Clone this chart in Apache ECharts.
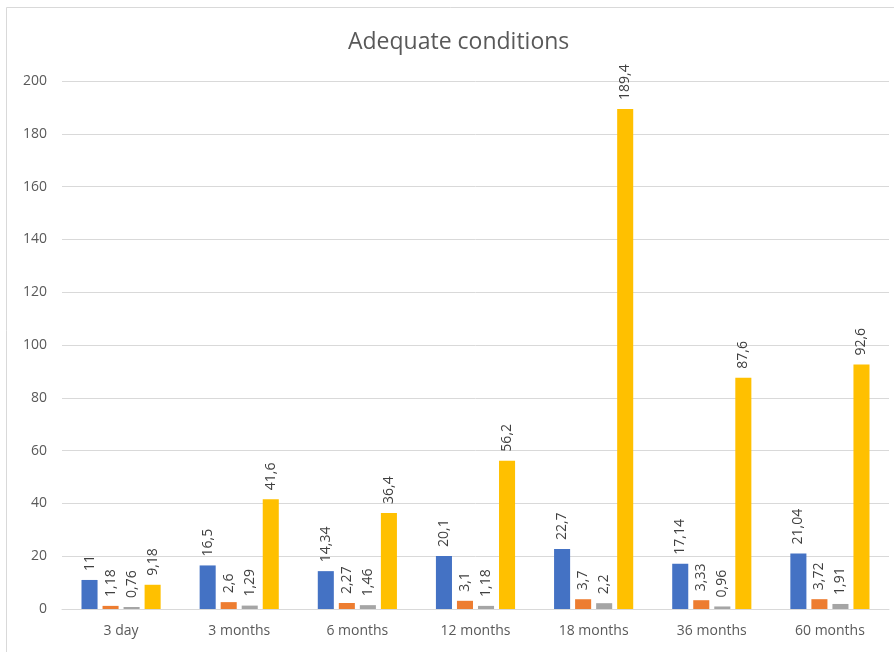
<!DOCTYPE html>
<html>
<head>
<meta charset="utf-8">
<script src="https://cdn.jsdelivr.net/npm/echarts@6/dist/echarts.min.js"></script>
<style>
html,body{margin:0;padding:0;background:#fff;}
#chart{width:894px;height:652px;}
</style>
</head>
<body>
<div id="chart"></div>
<script>
const categories = ['3 day','3 months','6 months','12 months','18 months','36 months','60 months'];
const seriesBlue = [11, 16.5, 14.34, 20.1, 22.7, 17.14, 21.04];
const seriesOrange = [1.18, 2.6, 2.27, 3.1, 3.7, 3.33, 3.72];
const seriesGray = [0.76, 1.29, 1.46, 1.18, 2.2, 0.96, 1.91];
const seriesYellow = [9.18, 41.6, 36.4, 56.2, 189.4, 87.6, 92.6];
const yTicks = [0, 20, 40, 60, 80, 100, 120, 140, 160, 180, 200];

const colors = ['#4472C4', '#ED7D31', '#A5A5A5', '#FFC000'];
const font = '"Open Sans", Lato, sans-serif';

function mk(data, color) {
  return {
    type: 'bar',
    data: data,
    itemStyle: { color: color },
    barGap: '31%',
    barCategoryGap: '33%',
    label: {
      show: true,
      position: 'top',
      rotate: 90,
      align: 'left',
      verticalAlign: 'middle',
      distance: 9,
      color: '#404040',
      fontSize: 14,
      fontFamily: font,
      formatter: p => String(p.value).replace('.', ',')
    }
  };
}

const chart = echarts.init(document.getElementById('chart'));
chart.setOption({
  animation: false,
  backgroundColor: '#fff',
  title: {
    text: 'Adequate conditions',
    left: 343,
    top: 26,
    textStyle: { color: '#595959', fontSize: 23, fontWeight: 'normal', fontFamily: font }
  },
  graphic: [{
    type: 'rect',
    shape: { x: 6.5, y: 7.5, width: 900, height: 700 },
    style: { fill: 'none', stroke: '#D9D9D9', lineWidth: 1 },
    silent: true
  }],
  grid: { left: 62, right: 5, top: 81, bottom: 43 },
  xAxis: {
    type: 'category',
    data: categories,
    axisTick: { show: false },
    axisLine: { lineStyle: { color: '#D9D9D9', width: 1 } },
    axisLabel: { color: '#595959', fontSize: 14, fontFamily: font, margin: 15 }
  },
  yAxis: {
    type: 'value',
    min: yTicks[0],
    max: yTicks[yTicks.length - 1],
    interval: 20,
    axisLine: { show: false },
    axisTick: { show: false },
    splitLine: { lineStyle: { color: '#D9D9D9', width: 1 } },
    axisLabel: { color: '#595959', fontSize: 14, fontFamily: font, margin: 15 }
  },
  series: [
    mk(seriesBlue, colors[0]),
    mk(seriesOrange, colors[1]),
    mk(seriesGray, colors[2]),
    mk(seriesYellow, colors[3])
  ]
});
</script>
</body>
</html>
